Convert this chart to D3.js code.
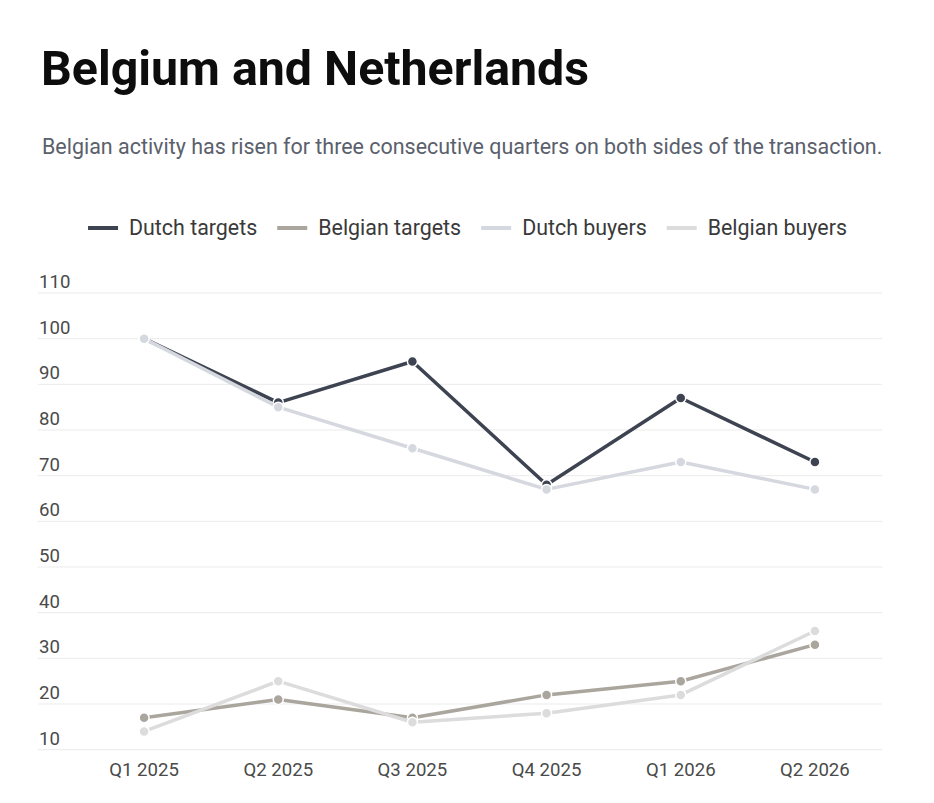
<!DOCTYPE html>
<html>
<head>
<meta charset="utf-8">
<script src="https://cdn.jsdelivr.net/npm/d3@7"></script>
<style>
  html, body { margin: 0; padding: 0; background: #fff; }
  svg { display: block; font-family: Roboto, "Noto Sans", sans-serif; }
</style>
</head>
<body>
<svg id="chart" width="934" height="803"></svg>
<script>
const quarters = ["Q1 2025", "Q2 2025", "Q3 2025", "Q4 2025", "Q1 2026", "Q2 2026"];
const dutchTargets = [100, 86, 95, 68, 87, 73];
const belgianTargets = [17, 21, 17, 22, 25, 33];
const dutchBuyers = [100, 85, 76, 67, 73, 67];
const belgianBuyers = [14, 25, 16, 18, 22, 36];
const yTicks = [10, 20, 30, 40, 50, 60, 70, 80, 90, 100, 110];
const seriesNames = ["Dutch targets", "Belgian targets", "Dutch buyers", "Belgian buyers"];
const seriesColors = ["#3d4350", "#aaa69e", "#d5d8df", "#dcdcdc"];
const seriesValues = [dutchTargets, belgianTargets, dutchBuyers, belgianBuyers];

const svg = d3.select("#chart");

svg.append("text")
  .attr("x", 41).attr("y", 85)
  .attr("font-size", 48.3).attr("font-weight", 700).attr("fill", "#0d0d0d")
  .text("Belgium and Netherlands");

svg.append("text")
  .attr("x", 42).attr("y", 154)
  .attr("font-size", 21.45).attr("fill", "#5a606c")
  .text("Belgian activity has risen for three consecutive quarters on both sides of the transaction.");

const x = d3.scaleBand().domain(quarters).range([77, 882]).padding(0);
const y = d3.scaleLinear().domain([10, 110]).range([749.7, 293]);
const cx = q => x(q) + x.bandwidth() / 2;

// grid
const grid = svg.append("g");
grid.selectAll("line").data(yTicks).join("line")
  .attr("x1", 38).attr("x2", 882)
  .attr("y1", d => y(d)).attr("y2", d => y(d))
  .attr("stroke", "#ebebeb").attr("stroke-width", 1);
grid.selectAll("text").data(yTicks).join("text")
  .attr("x", 39).attr("y", d => y(d) - 5)
  .attr("font-size", 18.6).attr("fill", "#4a4a4a")
  .text(d => d);

// x axis labels
svg.append("g").selectAll("text").data(quarters).join("text")
  .attr("x", d => cx(d)).attr("y", 776)
  .attr("text-anchor", "middle")
  .attr("font-size", 18.6).attr("fill", "#4a4a4a")
  .text(d => d);

const line = d3.line().x((d, i) => cx(quarters[i])).y(d => y(d));

seriesValues.forEach((vals, si) => {
  const g = svg.append("g");
  g.append("path").datum(vals)
    .attr("d", line)
    .attr("fill", "none")
    .attr("stroke", seriesColors[si])
    .attr("stroke-width", 3.5)
    .attr("stroke-linejoin", "round");
  g.selectAll("circle").data(vals).join("circle")
    .attr("cx", (d, i) => cx(quarters[i]))
    .attr("cy", d => y(d))
    .attr("r", 5)
    .attr("fill", seriesColors[si])
    .attr("stroke", "#fff")
    .attr("stroke-width", 1.5);
});

// legend
const legend = svg.append("g");
let lx = 0;
seriesNames.forEach((name, i) => {
  const it = legend.append("g");
  it.append("line").attr("x1", 0).attr("x2", 30).attr("y1", 0).attr("y2", 0)
    .attr("stroke", seriesColors[i]).attr("stroke-width", 4);
  const t = it.append("text").attr("x", 41).attr("y", 7)
    .attr("font-size", 21.4).attr("fill", "#3a3a3a").text(name);
  const w = 41 + t.node().getComputedTextLength();
  it.attr("transform", `translate(${lx},0)`);
  lx += w + 20;
});
const totalW = lx - 20;
legend.attr("transform", `translate(${467.5 - totalW / 2},228)`);
</script>
</body>
</html>
